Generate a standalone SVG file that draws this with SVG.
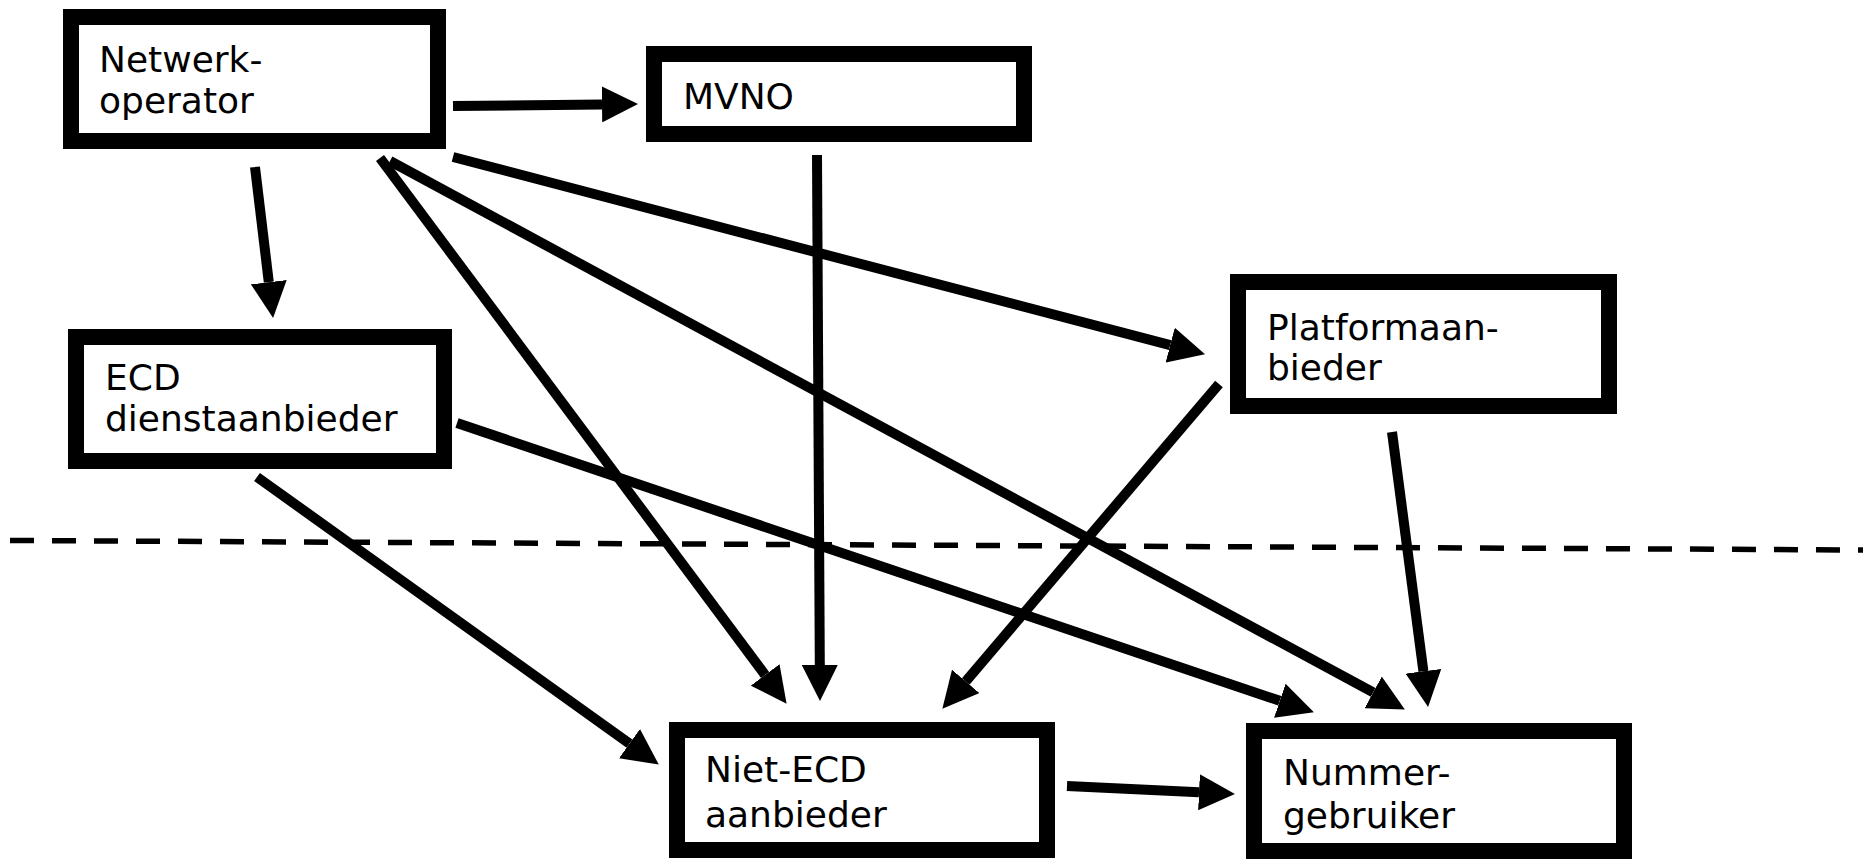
<svg xmlns="http://www.w3.org/2000/svg" width="1863" height="859" viewBox="0 0 1863 859">
<style>
.box{fill:#fff;stroke:#000;stroke-width:16}
.lbl{font-family:"DejaVu Sans","Liberation Sans",sans-serif;font-size:36px;fill:#000}
.conn{stroke:#000;stroke-width:10;fill:none}
.sep{stroke:#000;stroke-width:5.5;stroke-dasharray:24 18;fill:none}
</style>
<defs>
<marker id="ah" viewBox="0 0 36 36" refX="0" refY="18" markerWidth="36" markerHeight="36" markerUnits="userSpaceOnUse" orient="auto">
<path d="M0,0 L36,18 L0,36 z" fill="#000"/>
</marker>
</defs>
<rect width="1863" height="859" fill="#fff"/>
<line class="sep" x1="10" y1="540.5" x2="1863" y2="550"/>
<g id="connectors">
<line class="conn" marker-end="url(#ah)" x1="453" y1="106" x2="602" y2="104.4"/>
<line class="conn" marker-end="url(#ah)" x1="255" y1="167" x2="268.8" y2="282.2"/>
<line class="conn" marker-end="url(#ah)" x1="380" y1="158" x2="765.1" y2="674.9"/>
<line class="conn" marker-end="url(#ah)" x1="390" y1="161" x2="1373.2" y2="692.4"/>
<line class="conn" marker-end="url(#ah)" x1="453" y1="157" x2="1170.2" y2="345.1"/>
<line class="conn" marker-end="url(#ah)" x1="817" y1="155" x2="819.8" y2="665"/>
<line class="conn" marker-end="url(#ah)" x1="1219" y1="384" x2="965.7" y2="681.4"/>
<line class="conn" marker-end="url(#ah)" x1="1392" y1="432" x2="1423.4" y2="671.3"/>
<line class="conn" marker-end="url(#ah)" x1="257" y1="477" x2="629.5" y2="743.6"/>
<line class="conn" marker-end="url(#ah)" x1="457" y1="423" x2="1279.8" y2="700.8"/>
<line class="conn" marker-end="url(#ah)" x1="1067" y1="786" x2="1199" y2="792.3"/>
</g>
<g id="netwerkoperator">
<rect class="box" x="71" y="17" width="367" height="124"/>
<text class="lbl" x="99" y="72">Netwerk-</text>
<text class="lbl" x="99" y="113">operator</text>
</g>
<g id="mvno">
<rect class="box" x="654" y="54" width="370" height="80"/>
<text class="lbl" x="683" y="109">MVNO</text>
</g>
<g id="platformaanbieder">
<rect class="box" x="1238" y="282" width="371" height="124"/>
<text class="lbl" x="1267" y="340">Platformaan-</text>
<text class="lbl" x="1267" y="380">bieder</text>
</g>
<g id="ecd">
<rect class="box" x="76" y="337" width="368" height="124"/>
<text class="lbl" x="105" y="390">ECD</text>
<text class="lbl" x="105" y="431">dienstaanbieder</text>
</g>
<g id="nietecd">
<rect class="box" x="677" y="730" width="370" height="120"/>
<text class="lbl" x="705" y="782">Niet-ECD</text>
<text class="lbl" x="705" y="827">aanbieder</text>
</g>
<g id="nummergebruiker">
<rect class="box" x="1254" y="731" width="370" height="120"/>
<text class="lbl" x="1283" y="785">Nummer-</text>
<text class="lbl" x="1283" y="828">gebruiker</text>
</g>
</svg>
